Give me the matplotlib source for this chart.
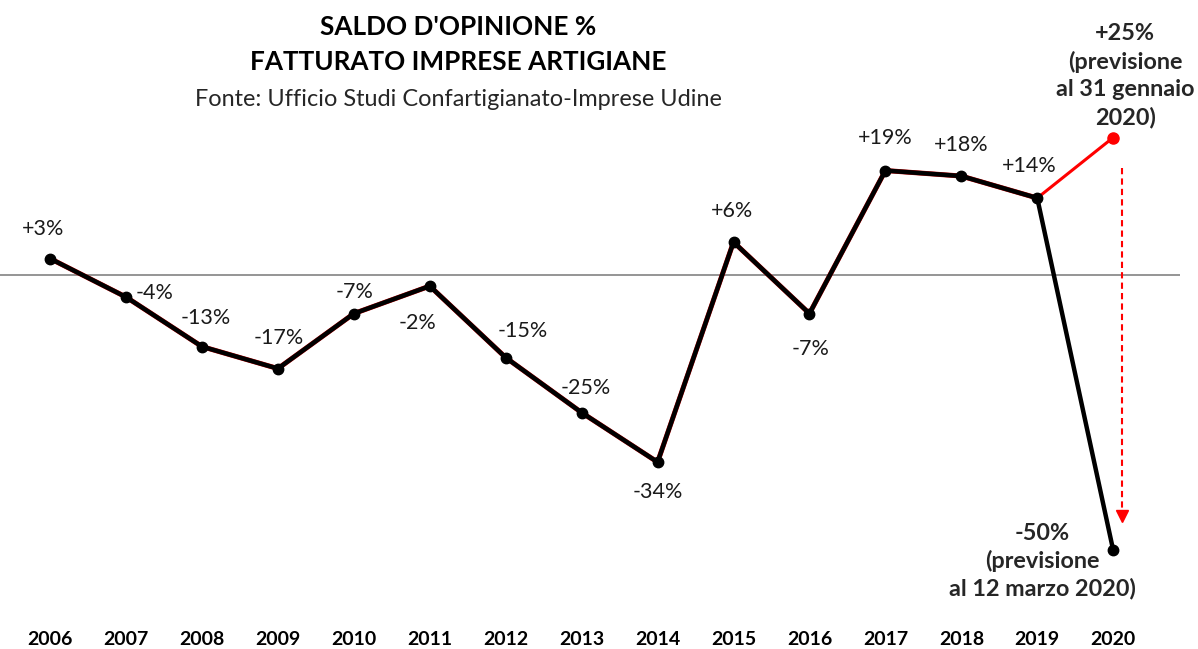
import matplotlib
matplotlib.use("Agg")
import matplotlib.pyplot as plt

years = [2006, 2007, 2008, 2009, 2010, 2011, 2012, 2013, 2014, 2015, 2016, 2017, 2018, 2019, 2020]
saldo_marzo = [3, -4, -13, -17, -7, -2, -15, -25, -34, 6, -7, 19, 18, 14, -50]
saldo_gennaio = [3, -4, -13, -17, -7, -2, -15, -25, -34, 6, -7, 19, 18, 14, 25]
labels = ["+3%", "-4%", "-13%", "-17%", "-7%", "-2%", "-15%", "-25%", "-34%",
          "+6%", "-7%", "+19%", "+18%", "+14%"]
label_gennaio = "+25%\n(previsione\nal 31 gennaio\n2020)"
label_marzo = "-50%\n(previsione\nal 12 marzo 2020)"
title_lines = ["SALDO D'OPINIONE %", "FATTURATO IMPRESE ARTIGIANE"]
subtitle = "Fonte: Ufficio Studi Confartigianato-Imprese Udine"

FONT = "Lato"
plt.rcParams['font.family'] = [FONT, 'DejaVu Sans']

W, H = 1198, 649
fig = plt.figure(figsize=(W / 100, H / 100), dpi=100)
# axes: left 0 px, right 1180 px, top 0 px, bottom 620 px
ax = fig.add_axes([0, (H - 620) / H, 1180 / W, 620 / H])
ax.set_xlim(2005.34, 2020.88)
ax.set_ylim(-62.7, 50)
for s in ax.spines.values():
    s.set_visible(False)
ax.set_yticks([])
ax.set_xticks(years)
ax.set_xticklabels([str(y) for y in years], fontsize=14, fontweight='bold', color='black')
ax.tick_params(axis='x', length=0, pad=8)

ax.axhline(0, color='#8c8c8c', lw=1.3, zorder=1)

# red series (forecast of January)
ax.plot(years[-2:], saldo_gennaio[-2:], color='#ff0000', lw=2.2, zorder=2)
ax.plot(years[:-1], saldo_gennaio[:-1], color='#c00000', lw=3.6, zorder=2)
ax.plot(years[-1], saldo_gennaio[-1], 'o', color='#ff0000', ms=8, zorder=3)
# black series (March)
ax.plot(years, saldo_marzo, color='black', lw=3.2, marker='o', ms=7.5, zorder=4)

LBL = 15.5
ANN = 16.8
# data labels (offsets in pixels)
offsets = [(-7, 30), (29, 4), (4, 29), (1, 31), (1, 22), (-12, -37), (17, 27), (4, 25),
           (0, -30), (-2, 31), (1, -35), (0, 33), (0, 31), (-8, 32)]
for x, y, t, (dx, dy) in zip(years[:-1], saldo_marzo[:-1], labels, offsets):
    ax.annotate(t, (x, y), xytext=(dx, dy), textcoords='offset pixels',
                ha='center', va='center', fontsize=LBL, color='#1a1a1a', zorder=5)

ax.annotate(label_gennaio, (years[-1], saldo_gennaio[-1]), xytext=(12, 62),
            textcoords='offset pixels', ha='center', va='center', fontsize=ANN,
            fontweight='bold', color='#262626', linespacing=1.38, zorder=5)
ax.annotate(label_marzo, (years[-1], saldo_marzo[-1]), xytext=(-71, -11),
            textcoords='offset pixels', ha='center', va='center', fontsize=ANN,
            fontweight='bold', color='#262626', linespacing=1.3, zorder=5)

# red dashed arrow
ax.plot([2020.12, 2020.12], [19.5, -43.5], color='#ff0000', lw=1.5, ls=(0, (3, 2)), zorder=3)
ax.plot([2020.12], [-43.8], marker='v', color='#ff0000', ms=8, zorder=3)

# titles
fig.text(458 / W, 1 - 27 / H, title_lines[0], ha='center', va='center',
         fontsize=18.8, fontweight='bold', color='black')
fig.text(458 / W, 1 - 62 / H, title_lines[1], ha='center', va='center',
         fontsize=18.8, fontweight='bold', color='black')
fig.text(458 / W, 1 - 100 / H, subtitle, ha='center', va='center',
         fontsize=16.9, color='#262626')

fig.savefig("out.png", dpi=100, facecolor='white')
